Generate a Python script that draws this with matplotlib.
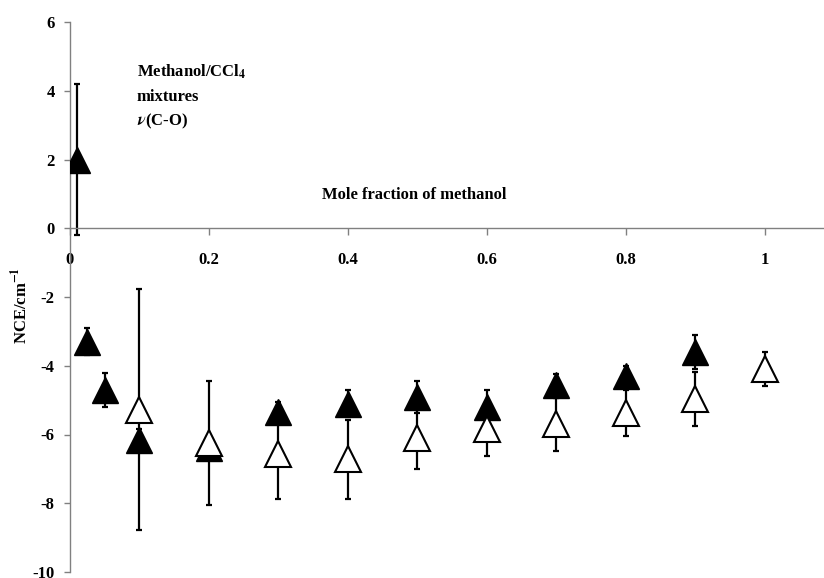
import matplotlib
matplotlib.use("Agg")
import matplotlib.pyplot as plt

# ---- data ----
x_filled = [0.01, 0.025, 0.05, 0.1, 0.2, 0.3, 0.4, 0.5, 0.6, 0.7, 0.8, 0.9]
y_filled = [2.0, -3.3, -4.7, -6.15, -6.4, -5.35, -5.1, -4.9, -5.2, -4.55, -4.3, -3.6]
err_filled = [2.2, 0.4, 0.5, 0.3, 0.3, 0.3, 0.4, 0.47, 0.5, 0.3, 0.3, 0.5]

x_open = [0.1, 0.2, 0.3, 0.4, 0.5, 0.6, 0.7, 0.8, 0.9, 1.0]
y_open = [-5.28, -6.24, -6.57, -6.72, -6.1, -5.85, -5.7, -5.38, -4.97, -4.1]
err_open = [3.5, 1.8, 1.3, 1.15, 0.9, 0.77, 0.77, 0.67, 0.78, 0.5]

x_ticks = [0, 0.2, 0.4, 0.6, 0.8, 1.0]
x_ticklabels = ["0", "0.2", "0.4", "0.6", "0.8", "1"]
y_ticks = [-10, -8, -6, -4, -2, 0, 2, 4, 6]

plt.rcParams['font.family'] = ['Liberation Serif', 'DejaVu Serif']
plt.rcParams['font.weight'] = 'bold'
plt.rcParams['mathtext.fontset'] = 'stix'
plt.rcParams['axes.unicode_minus'] = False

FS = 12

fig = plt.figure(figsize=(8.24, 5.78), dpi=100)
ax = fig.add_axes([70/824, 6/578, 1 - 70/824, 550/578])

ax.set_xlim(0, 1.085)
ax.set_ylim(-10, 6)

# error bars (behind markers)
ax.errorbar(x_filled, y_filled, yerr=err_filled, fmt='none', ecolor='black',
            elinewidth=1.6, capsize=2.4, capthick=1.6, zorder=1)
ax.errorbar(x_open, y_open, yerr=err_open, fmt='none', ecolor='black',
            elinewidth=1.6, capsize=2.4, capthick=1.6, zorder=1)

# markers
ax.plot(x_filled, y_filled, linestyle='none', marker='^', markersize=18.5,
        markerfacecolor='black', markeredgecolor='black', zorder=3)
ax.plot(x_open, y_open, linestyle='none', marker='^', markersize=18.5,
        markerfacecolor='white', markeredgecolor='black', markeredgewidth=1.5,
        zorder=4)

# axes styling
for s in ['top', 'right']:
    ax.spines[s].set_visible(False)
ax.spines['bottom'].set_position(('data', 0))
for s in ['left', 'bottom']:
    ax.spines[s].set_color('#808080')
    ax.spines[s].set_linewidth(1.0)

ax.set_xticks(x_ticks)
ax.set_xticklabels(x_ticklabels)
ax.set_yticks(y_ticks)
ax.tick_params(axis='x', direction='out', length=5, width=1, color='#808080',
               labelsize=FS, pad=12)
ax.tick_params(axis='y', direction='out', length=4, width=1, color='#808080',
               labelsize=FS, pad=7)
for lab in ax.get_xticklabels() + ax.get_yticklabels():
    lab.set_fontweight('bold')

ax.set_ylabel(r"NCE/cm$^{\mathbf{-1}}$", fontsize=FS, fontweight='bold')
ax.yaxis.set_label_coords(-39/754, 0.485)

ax.text(0.096, 4.56, r"Methanol/CCl$_{\mathbf{4}}$", fontsize=FS, fontweight='bold',
        ha='left', va='center')
ax.text(0.096, 3.83, "mixtures", fontsize=FS, fontweight='bold', ha='left', va='center')
ax.text(0.096, 3.1, r"$\nu$(C-O)", fontsize=FS, fontweight='bold', ha='left', va='center')
ax.text(0.495, 0.97, "Mole fraction of methanol", fontsize=FS, fontweight='bold',
        ha='center', va='center')

fig.savefig("out.png", dpi=100)
